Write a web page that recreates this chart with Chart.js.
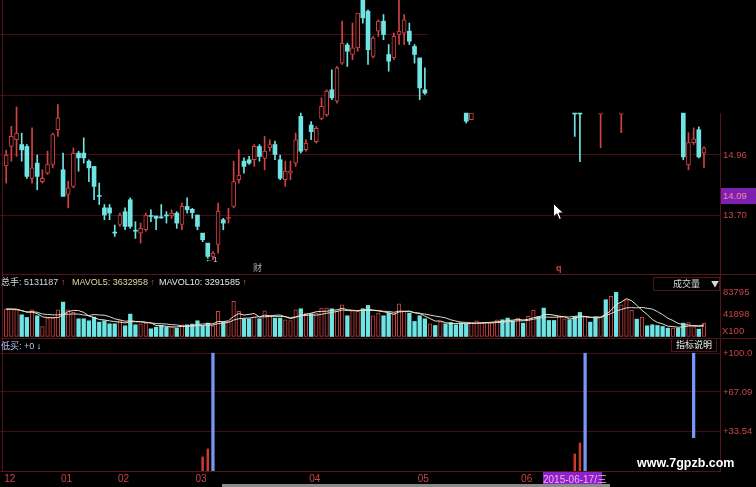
<!DOCTYPE html>
<html><head><meta charset="utf-8">
<script src="https://cdn.jsdelivr.net/npm/chart.js@4.4.1/dist/chart.umd.min.js"></script>
<style>
html,body{margin:0;padding:0;background:#000;width:756px;height:487px;overflow:hidden;position:relative;font-family:"Liberation Sans","Noto Sans CJK SC",sans-serif;}
canvas{position:absolute;left:0;}
#c1{top:0;width:756px;height:274px}
#c2{top:275px;width:756px;height:62px}
#c3{top:339px;width:756px;height:148px}
.t{position:absolute;white-space:nowrap;font-size:9px;line-height:11px;font-family:"Liberation Sans","Noto Sans CJK SC",sans-serif;}
.ln{position:absolute;background:#5a1418;}
.box{position:absolute;border:1px solid #4e1418;box-sizing:border-box;color:#d8d8d8;font-size:9px;line-height:12px;font-family:"Noto Sans CJK SC","Liberation Sans",sans-serif;}
</style></head><body>
<canvas id="c1" width="756" height="274"></canvas>
<canvas id="c2" width="756" height="62"></canvas>
<canvas id="c3" width="756" height="148"></canvas>

<div class="ln" style="left:2px;top:0;width:1px;height:471px"></div>
<div class="ln" style="left:2px;top:274px;width:754px;height:1px"></div>
<div class="ln" style="left:2px;top:338px;width:754px;height:1px"></div>

<div class="t" style="left:1px;top:277px;color:#cfd8dc">总手: 5131187<span style="color:#e04848"> ↑</span></div>
<div class="t" style="left:72px;top:277px;color:#e6d8a0">MAVOL5: 3632958<span style="color:#e04848"> ↑</span></div>
<div class="t" style="left:159px;top:277px;color:#e8e8e8">MAVOL10: 3291585<span style="color:#e04848"> ↑</span></div>
<div class="box" style="left:653px;top:277px;width:67px;height:14px"><span style="position:absolute;left:19px;top:0">成交量</span><span style="position:absolute;left:57px;top:0;font-size:8px">▼</span></div>
<div class="t" style="left:722px;top:325px;color:#c84646;font-size:9.5px">X100</div>

<div class="t" style="left:1px;top:341px;color:#b8c4f0">低买: +0<span style="color:#e8f8ff"> ↓</span></div>
<div class="box" style="left:671px;top:338px;width:46px;height:14px;color:#f0f0f0;text-align:center">指标说明</div>

<div class="t" style="left:543px;top:472px;width:59px;height:15px;line-height:15px;background:#8c22c8;color:#f0b0f0;font-size:10px;text-align:center">2015-06-17/三</div>
<div class="t" style="left:637px;top:456px;color:#ffffff;font-size:12.5px;line-height:14px;font-weight:bold">www.7gpzb.com</div>
<div style="position:absolute;left:222px;top:484px;width:388px;height:3px;background:#8a8a8a"></div>

<div class="t" style="left:253px;top:263px;color:#b0b0b0;font-size:9px">财</div>
<div class="t" style="left:556px;top:263px;color:#e04040;font-size:9px;font-weight:bold">q</div>
<div class="t" style="left:205px;top:254px;color:#e0e0e0;font-size:8px">←1</div>
<svg style="position:absolute;left:553px;top:203px" width="12" height="18" viewBox="0 0 12 18"><path d="M0.5 0.5 L0.5 14 L3.8 10.8 L6.3 16.5 L8.4 15.6 L6 10 L10.5 10 Z" fill="#fff" stroke="#000" stroke-width="1"/></svg>

<script>
const _ = null;
// trading-day index (x axis)
const days = [];
for (let i = 0; i < 136; i++) days.push(i);

// month labels on the x axis
const monthDays = [0, 11, 22, 37, 59, 80, 100];
const monthLabels = ['12', '01', '02', '03', '04', '05', '06'];

// price panel (OHLC), null where hidden
const open = [
14.73,15.14,15.28,15.18,15.14,14.47,14.79,14.40,14.58,14.76,
15.49,14.65,14.13,14.30,15.00,15.00,14.83,14.72,14.10,13.85,
13.85,13.33,13.50,13.77,14.02,13.37,13.32,13.39,13.68,13.68,
13.65,13.69,13.68,13.74,13.50,13.88,13.82,13.70,13.32,13.11,
12.83,13.08,13.60,13.63,13.88,14.44,14.83,14.86,14.86,15.14,
14.89,15.11,15.18,14.86,14.44,14.58,14.79,15.77,15.07,15.59,
15.24,15.73,15.80,16.33,16.09,16.89,17.27,17.07,17.21,18.25,
17.98,17.03,17.56,17.77,17.07,17.00,17.49,17.52,17.56,17.24,
17.00,16.33,_,_,_,_,_,_,_,15.84,
15.70,_,_,_,_,_,_,_,_,_,
_,_,_,_,_,_,_,_,_,_,
15.84,15.84,_,_,_,15.82,_,_,_,15.82,
_,_,_,_,_,_,_,_,_,_,
_,15.84,14.75,15.22,15.49,15.00];
const high = [
15.06,15.56,15.97,15.42,15.18,15.53,14.96,14.65,15.04,15.42,
16.02,15.00,14.41,15.11,15.04,15.32,14.86,14.72,14.37,13.92,
13.92,13.49,13.74,13.85,14.06,13.56,13.53,13.74,13.81,13.68,
13.92,13.77,13.81,13.77,13.95,14.06,13.84,13.70,13.32,13.11,
12.93,13.95,13.63,13.84,14.83,15.07,14.90,14.93,15.18,15.18,
15.35,15.28,15.25,14.96,14.83,14.83,15.42,15.84,15.28,15.66,
15.56,16.16,16.33,16.75,16.82,17.77,17.31,17.73,17.94,18.40,
18.01,17.45,17.80,17.91,17.28,17.52,18.30,17.91,17.73,17.28,
17.00,16.79,_,_,_,_,_,_,_,15.84,
15.84,_,_,_,_,_,_,_,_,_,
_,_,_,_,_,_,_,_,_,_,
15.84,15.84,_,_,_,15.84,_,_,_,15.84,
_,_,_,_,_,_,_,_,_,_,
_,15.84,15.43,15.53,15.55,15.13];
const low = [
14.37,14.83,14.93,14.83,14.47,14.37,14.23,14.37,14.55,14.69,
15.35,14.09,13.85,14.27,14.62,14.79,14.40,14.02,13.92,13.60,
13.60,13.25,13.46,13.39,13.42,13.21,13.11,13.36,13.56,13.39,
13.63,13.53,13.63,13.42,13.39,13.74,13.63,13.39,13.14,12.79,
12.76,12.90,13.39,13.53,13.85,14.37,14.58,14.76,14.72,14.83,
14.65,15.04,14.86,14.44,14.30,14.44,14.72,15.00,15.04,15.28,
15.21,15.70,15.77,16.12,16.05,16.86,16.82,16.96,17.14,17.73,
16.86,17.00,17.45,17.38,16.72,16.96,17.28,17.28,17.28,16.89,
16.12,16.23,_,_,_,_,_,_,_,15.63,
15.70,_,_,_,_,_,_,_,_,_,
_,_,_,_,_,_,_,_,_,_,
15.35,14.82,_,_,_,15.11,_,_,_,15.43,
_,_,_,_,_,_,_,_,_,_,
_,14.86,14.65,15.18,14.90,14.69];
const close = [
14.96,15.35,15.42,15.07,14.51,14.69,14.51,14.47,14.76,15.39,
15.74,14.09,14.27,15.00,14.90,14.90,14.69,14.30,14.09,13.70,
13.74,13.32,13.70,13.46,13.46,13.36,13.42,13.70,13.67,13.63,
13.64,13.68,13.74,13.53,13.88,13.81,13.75,13.46,13.18,12.83,
12.90,13.78,13.53,13.64,14.40,14.54,14.72,14.79,15.14,14.93,
15.04,15.18,14.97,14.47,14.62,14.62,15.28,15.04,15.21,15.45,
15.52,15.98,16.30,16.16,16.79,17.31,17.14,17.21,17.94,17.84,
17.17,17.42,17.77,17.49,16.93,17.45,17.56,17.80,17.35,17.07,
16.37,16.26,_,_,_,_,_,_,_,15.67,
15.84,_,_,_,_,_,_,_,_,_,
_,_,_,_,_,_,_,_,_,_,
15.82,15.82,_,_,_,15.84,_,_,_,15.84,
_,_,_,_,_,_,_,_,_,_,
_,14.92,15.22,15.30,14.92,15.11];

const priceTicks = [13.70, 14.96, 16.22, 17.48];
const currentPrice = 14.09;

// volume panel (x100 shares)
const volume = [
52060,52060,50790,41270,36190,50790,39360,19050,34920,34920,
50790,65390,50790,45710,33650,33650,29840,36820,27300,29840,
24130,24130,30480,20320,42540,22220,24130,25400,14600,17780,
20950,17780,19050,15870,22220,22220,23490,29840,20320,25400,
20320,47620,27300,28570,66660,47620,33650,33650,36820,33650,
48890,38090,34920,34920,31750,30480,50790,52690,44440,43170,
44440,53960,53960,52690,47620,60310,39360,49520,47620,52690,
59040,39360,44440,39360,44440,43170,62210,47620,44440,28570,
39360,33650,24130,20950,28570,24130,26670,22220,25400,23490,
26670,29840,25400,26670,27300,31750,31750,34920,29840,34920,
25400,38090,49520,38090,53960,30480,30480,39360,33650,31750,
38090,45710,38090,27300,36820,36820,69830,76180,83795,60310,
69830,49520,33010,36820,20320,22220,20950,19050,15870,15870,
15870,25400,26670,19050,13970,25400];
// 1 = rising day (red hollow bar), 0 = falling day (cyan bar)
const volumeUp = [
1,1,1,0,0,1,0,1,1,1,
1,0,1,1,0,0,0,0,0,0,
0,0,1,0,0,0,1,1,0,0,
0,0,1,0,1,0,0,0,0,0,
1,1,0,1,1,1,0,0,1,0,
1,1,0,0,1,1,1,0,1,0,
1,1,1,0,1,1,0,1,1,0,
0,1,1,0,0,1,1,1,0,0,
0,0,1,0,1,0,0,0,0,0,
1,1,1,1,1,1,0,0,0,1,
0,1,1,0,0,0,0,1,1,0,
0,0,1,0,0,1,0,1,0,1,
1,1,0,1,0,0,0,0,0,1,
0,0,1,1,0,1];
const volumeTicks = [41898, 83795];

// 低买 indicator panel
const signalDays = [40, 112, 133];
const signalFrom = [0, 0, 28.3];
const signalTo = [100, 100, 100];
const lowBuyDays = [38, 39, 110, 111];
const lowBuyValues = [11.9, 18.7, 14.4, 23.8];
const indicatorTicks = [33.54, 67.09, 100.0];
const indicatorTickLabels = ['+33.54', '+67.09', '+100.0'];

// ---------- styling ----------
const RED = '#d24242', CYAN = '#6ee4e4', GRID = '#4a0c14', EDGE = '#5a1418', LABEL = '#c84646';
const X_MIN = -1.2, X_MAX = 138.1;
const tickFont = {family: '"Liberation Sans", Arial, sans-serif', size: 9.5};

function fitRight(s) { s.width = 36; s.paddingTop = 0; s.paddingBottom = 0; }
function xHidden() { return {type: 'linear', min: X_MIN, max: X_MAX, display: false, offset: false}; }
const baseOpts = {
  responsive: false, maintainAspectRatio: false, animation: false, devicePixelRatio: 1,
  layout: {padding: 0},
  plugins: {legend: {display: false}, tooltip: {enabled: false}}
};

// ---------- candles ----------
const bodyData = [], bodyFill = [], bodyEdge = [], bodyBW = [];
const upWick = [], upWickC = [], loWick = [], loWickC = [];
days.forEach(i => {
  if (open[i] == null) return;
  const rising = close[i] > open[i];
  const col = rising ? RED : CYAN;
  const top = Math.max(open[i], close[i]), bot = Math.min(open[i], close[i]);
  bodyData.push({x: i, y: [open[i], close[i]]});
  bodyFill.push(rising ? '#000000' : CYAN);
  bodyEdge.push(col);
  bodyBW.push(rising ? 1 : 0);
  if (high[i] > top) { upWick.push({x: i, y: [top, high[i]]}); upWickC.push(col); }
  if (low[i] < bot) { loWick.push({x: i, y: [low[i], bot]}); loWickC.push(col); }
});

const overlayPlugin = {
  id: 'hiddenArea',
  beforeDatasetsDraw(chart) {
    const xs = chart.scales.x, ys = chart.scales.y, c = chart.ctx;
    const x0 = xs.getPixelForValue(81.6), y1 = ys.getPixelForValue(15.84);
    c.save(); c.fillStyle = '#000'; c.fillRect(x0, 0, chart.width - x0, y1); c.restore();
  },
  afterDraw(chart) {
    const ys = chart.scales.y, c = chart.ctx, a = chart.chartArea;
    const y = ys.getPixelForValue(currentPrice);
    c.save();
    c.fillStyle = '#7d1fb0'; c.fillRect(a.right + 1, Math.round(y) - 8, chart.width - a.right - 1, 16);
    c.fillStyle = '#ff8da0'; c.font = '9.5px "Liberation Sans", Arial, sans-serif';
    c.textBaseline = 'middle'; c.textAlign = 'left';
    c.fillText(currentPrice.toFixed(2), a.right + 3, Math.round(y));
    c.restore();
  }
};

new Chart(document.getElementById('c1'), {
  type: 'bar',
  data: {datasets: [
    {data: upWick, backgroundColor: upWickC, barThickness: 1, grouped: false, borderWidth: 0},
    {data: loWick, backgroundColor: loWickC, barThickness: 1, grouped: false, borderWidth: 0},
    {data: bodyData, backgroundColor: bodyFill, borderColor: bodyEdge, borderWidth: bodyBW,
     borderSkipped: false, barThickness: 4, grouped: false, minBarLength: 1}
  ]},
  options: Object.assign({}, baseOpts, {
    scales: {
      x: xHidden(),
      y: {position: 'right', min: 12.461, max: 18.215,
          afterBuildTicks: s => { s.ticks = priceTicks.map(v => ({value: v})); },
          afterFit: fitRight,
          grid: {color: GRID, drawTicks: false}, border: {display: true, color: EDGE},
          ticks: {color: LABEL, font: tickFont, padding: 3, callback: v => Number(v).toFixed(2)}}
    }
  }),
  plugins: [overlayPlugin]
});

// ---------- volume ----------
function movingAverage(arr, n) {
  return arr.map((v, i) => {
    const s = arr.slice(Math.max(0, i - n + 1), i + 1);
    return s.reduce((a, b) => a + b, 0) / s.length;
  });
}
const ma5 = movingAverage(volume, 5), ma10 = movingAverage(volume, 10);

new Chart(document.getElementById('c2'), {
  type: 'bar',
  data: {datasets: [
    {type: 'line', data: days.map(i => ({x: i, y: ma5[i]})), borderColor: '#efe4c0', borderWidth: 1,
     pointRadius: 0, tension: 0, order: 1},
    {type: 'line', data: days.map(i => ({x: i, y: ma10[i]})), borderColor: '#d8d8d8', borderWidth: 1,
     pointRadius: 0, tension: 0, order: 1},
    {data: days.map(i => ({x: i, y: volume[i]})),
     backgroundColor: days.map(i => volumeUp[i] ? '#000000' : CYAN),
     borderColor: days.map(i => volumeUp[i] ? RED : CYAN),
     borderWidth: days.map(i => volumeUp[i] ? 1 : 0),
     borderSkipped: false, barThickness: 3.6, grouped: false, order: 2}
  ]},
  options: Object.assign({}, baseOpts, {
    scales: {
      x: xHidden(),
      y: {position: 'right', min: -950, max: 116850,
          afterBuildTicks: s => { s.ticks = volumeTicks.map(v => ({value: v})); },
          afterFit: fitRight,
          grid: {display: false, drawTicks: false}, border: {display: true, color: EDGE},
          ticks: {color: LABEL, font: tickFont, padding: 3, callback: v => String(Math.round(v))}}
    }
  })
});

// ---------- 低买 indicator ----------
new Chart(document.getElementById('c3'), {
  type: 'bar',
  data: {datasets: [
    {data: signalDays.map((d, k) => ({x: d, y: [signalFrom[k], signalTo[k]]})),
     backgroundColor: '#7896f8', barThickness: 2.6, grouped: false, borderWidth: 0},
    {data: lowBuyDays.map((d, k) => ({x: d, y: lowBuyValues[k]})),
     backgroundColor: '#cc3c28', barThickness: 1.8, grouped: false, borderWidth: 0}
  ]},
  options: Object.assign({}, baseOpts, {
    scales: {
      x: {type: 'linear', min: X_MIN, max: X_MAX, offset: false,
          afterBuildTicks: s => { s.ticks = monthDays.map(v => ({value: v})); },
          afterFit: s => { s.height = 16; s.paddingLeft = 0; s.paddingRight = 0; },
          grid: {display: false, drawTicks: false}, border: {display: true, color: EDGE},
          ticks: {color: LABEL, font: {family: tickFont.family, size: 10}, padding: 2, align: 'start',
                  labelOffset: -2, autoSkip: false, maxRotation: 0,
                  callback: v => monthLabels[monthDays.indexOf(v)]}},
      y: {position: 'right', min: 0, max: 112.05,
          afterBuildTicks: s => { s.ticks = indicatorTicks.map(v => ({value: v})); },
          afterFit: fitRight,
          grid: {color: GRID, drawTicks: false}, border: {display: true, color: EDGE},
          ticks: {color: LABEL, font: tickFont, padding: 3,
                  callback: v => indicatorTickLabels[indicatorTicks.indexOf(v)]}}
    }
  })
});
</script>
</body></html>
